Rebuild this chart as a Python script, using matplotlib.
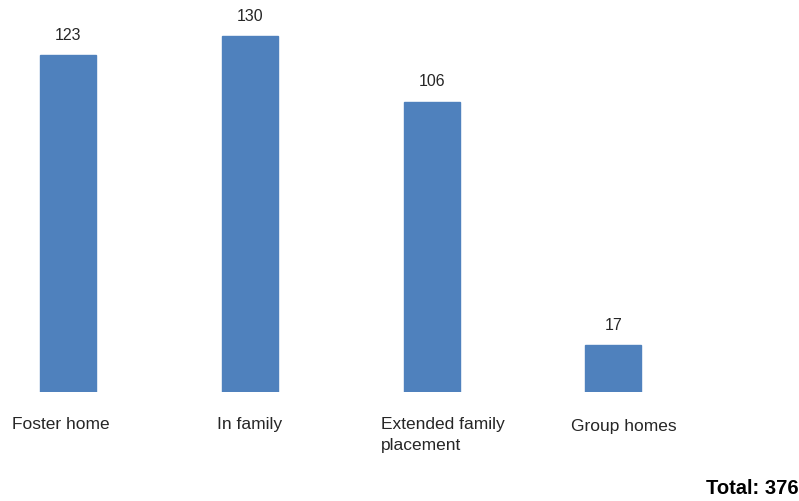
import matplotlib.pyplot as plt

# data
categories = ["Foster home", "In family", "Extended family\nplacement", "Group homes"]
counts = [123, 130, 106, 17]
total_label = "Total: 376"

BAR_COLOR = "#4F81BD"
TEXT_COLOR = "#262626"

plt.rcParams["font.family"] = ["Liberation Sans", "DejaVu Sans"]

fig = plt.figure(figsize=(7.99, 5.02), dpi=100)
# axes spans the full width; bottom of the bars sits at y=393 px
ax = fig.add_axes([0, (502 - 393) / 502, 1, 393 / 502])

x = list(range(len(categories)))
bars = ax.bar(x, counts, width=0.308, color=BAR_COLOR, edgecolor=BAR_COLOR)

for rect, val in zip(bars, counts):
    ax.annotate(
        str(val),
        xy=(rect.get_x() + rect.get_width() / 2, rect.get_height()),
        xytext=(0, 15),
        textcoords="offset points",
        ha="center",
        va="center",
        fontsize=11.5,
        color=TEXT_COLOR,
    )

ax.set_xlim(-68 / 181.8, (799 - 68) / 181.8)
ax.set_ylim(0, 393 / 2.738)
ax.axis("off")

# category labels under the bars
label_dx = [-0.04, 0.0, 0.06, 0.055]
label_y = [-0.062, -0.062, -0.062, -0.067]
for xi, name, dx, ly in zip(x, categories, label_dx, label_y):
    ax.text(
        xi + dx,
        ly,
        name,
        transform=ax.get_xaxis_transform(),
        ha="center",
        va="top",
        multialignment="left",
        fontsize=12.5,
        color=TEXT_COLOR,
        linespacing=1.45,
    )

fig.text(0.999, 0.026, total_label, ha="right", va="center",
         fontsize=14.5, fontweight="bold", color="#000000")

fig.savefig("out.png", dpi=100)
